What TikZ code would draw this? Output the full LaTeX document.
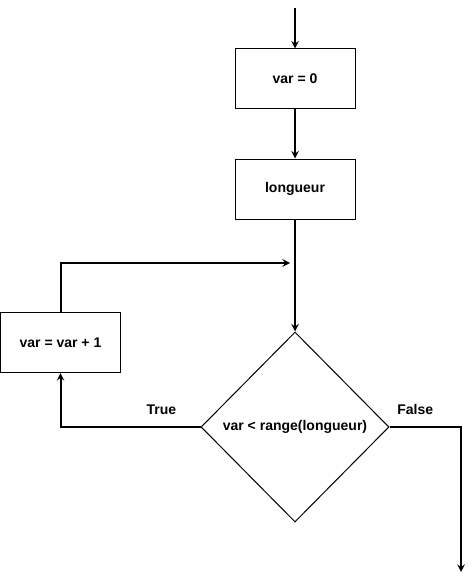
\documentclass[tikz,border=0pt]{standalone}
\usepackage{fontspec}
\setmainfont{Liberation Sans}
\usetikzlibrary{shapes.geometric,positioning}

\begin{document}
\begin{tikzpicture}[x=0.75pt, y=-0.75pt,
	box/.style={rectangle, draw, line width=0.75pt, minimum width=90pt, minimum height=45pt, font=\fontsize{10.5}{13}\selectfont\bfseries},
	test/.style={diamond, draw, line width=0.75pt, aspect=1, inner sep=0pt, minimum width=141pt, minimum height=142.5pt, font=\fontsize{10.5}{13}\selectfont\bfseries},
	flow/.style={-stealth, line width=1.5pt},
	lbl/.style={font=\fontsize{10.5}{13}\selectfont\bfseries}]
	\useasboundingbox (0,0) rectangle (471,581);
	\coordinate (start) at (295,8);
	\node[box] (V0) at (295,79) {var = 0};
	\node[box] (L) at (295,189) {longueur};
	\node[test] (T) at (295,427) {var < range(longueur)};
	\node[box] (inc) at (60.5,342.5) {var = var + 1};
	\coordinate (merge) at (290,263);
	\coordinate (out) at (461,572);

	\draw[flow] (start) -- (V0);
	\draw[flow] (V0) -- (L);
	\draw[flow] (L) -- (T);
	\draw[flow] (T.west) -| node[lbl, pos=0.14, above=5pt] (lt) {True} (inc.south);
	\draw[flow] (inc.north) |- (merge);
	\draw[flow] (T.east) -| node[lbl, pos=0.18, above=5pt] (lf) {False} (out);
\end{tikzpicture}
\end{document}
